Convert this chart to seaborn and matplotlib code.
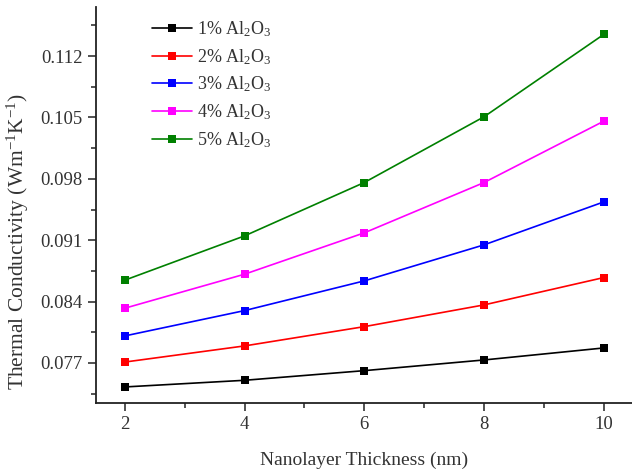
import matplotlib
matplotlib.use("Agg")
import matplotlib.pyplot as plt
import seaborn as sns
import pandas as pd
from matplotlib.ticker import MultipleLocator

thickness = [2, 4, 6, 8, 10]
s1 = [0.07426, 0.07502, 0.07612, 0.07734, 0.07871]
s2 = [0.07710, 0.07894, 0.08114, 0.08362, 0.08674]
s3 = [0.08008, 0.08297, 0.08636, 0.09047, 0.09537]
s4 = [0.08324, 0.08712, 0.09184, 0.09758, 0.10458]
s5 = [0.08644, 0.09149, 0.09758, 0.10508, 0.11448]
labels = ["1% Al$_2$O$_3$", "2% Al$_2$O$_3$", "3% Al$_2$O$_3$", "4% Al$_2$O$_3$", "5% Al$_2$O$_3$"]
colors = ["#000000", "#ff0000", "#0000ff", "#ff00ff", "#008000"]
yticks = [0.077, 0.084, 0.091, 0.098, 0.105, 0.112]
xticks = [2, 4, 6, 8, 10]

rows = []
for lab, vals in zip(labels, [s1, s2, s3, s4, s5]):
    for x, v in zip(thickness, vals):
        rows.append({"x": x, "y": v, "series": lab})
df = pd.DataFrame(rows)

sns.set_theme(style="ticks")
plt.rcParams["font.family"] = ["Liberation Serif", "DejaVu Serif"]
plt.rcParams["mathtext.default"] = "regular"

fig = plt.figure(figsize=(6.32, 4.70), dpi=100)
ax = fig.add_axes([96 / 632, 1 - 403 / 470, 536 / 632, 396 / 470])

sns.lineplot(data=df, x="x", y="y", hue="series", palette=dict(zip(labels, colors)),
             marker="s", markersize=6, markeredgewidth=0, linewidth=1.2, ax=ax, legend=False)

for lab, c in zip(labels, colors):
    ax.plot([], [], color=c, marker="s", markersize=6, markeredgewidth=0, linewidth=1.2, label=lab)

ax.set_xlim(1.52, 10.47)
ax.set_ylim(0.07243, 0.1176)
ax.set_xticks(xticks)
ax.set_yticks(yticks)
ax.set_yticklabels([f"{t:.3f}" for t in yticks])
ax.xaxis.set_minor_locator(MultipleLocator(1))
ax.yaxis.set_minor_locator(MultipleLocator(0.0035))
ax.tick_params(axis="both", which="major", direction="out", length=6, width=1.2, labelsize=13.5, colors="#333333")
ax.tick_params(axis="both", which="minor", direction="out", length=3.5, width=1.2, colors="#333333")
for sp in ["top", "right"]:
    ax.spines[sp].set_visible(False)
for sp in ["left", "bottom"]:
    ax.spines[sp].set_linewidth(1.3)
    ax.spines[sp].set_color("#222222")

ax.set_xlabel("Nanolayer Thickness (nm)", fontsize=14, color="#333333", labelpad=13)
ax.set_ylabel("Thermal Conductivity (Wm$^{-1}$K$^{-1}$)", fontsize=15.5, color="#333333")
ax.yaxis.set_label_coords((31 - 96) / 536, (403 - 241) / 396)

leg = ax.legend(loc="upper left", bbox_to_anchor=((152 - 96) / 536, (403 - 19) / 396),
                borderaxespad=0, borderpad=0, frameon=False, fontsize=13,
                handlelength=2.2, handletextpad=0.3, labelspacing=0.45)
for t in leg.get_texts():
    t.set_color("#333333")

fig.savefig("out.png", dpi=100)
